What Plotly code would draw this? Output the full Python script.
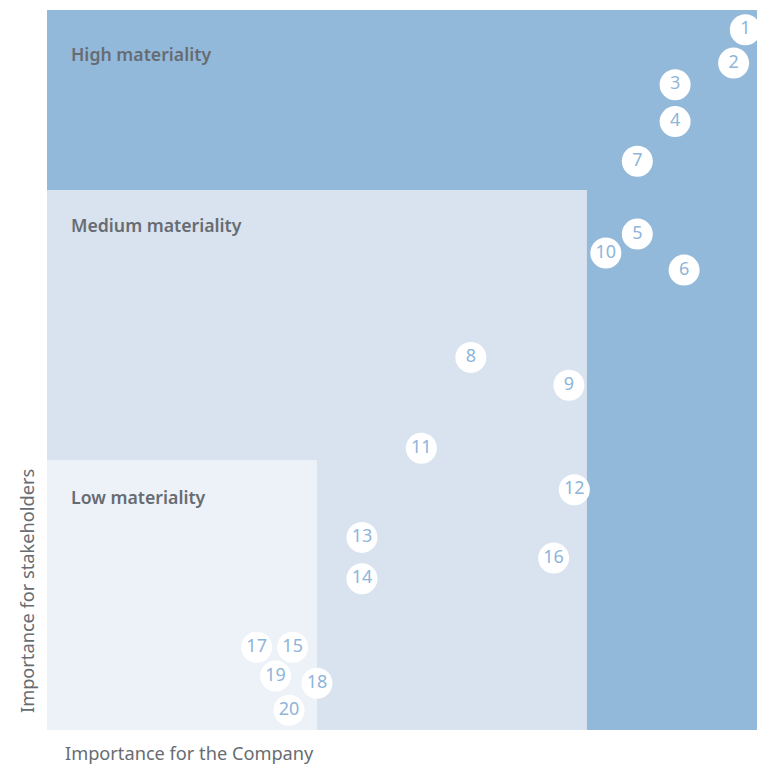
import plotly.graph_objects as go

# Data (units: importance scores)
labels = ["1", "2", "3", "4", "5", "6", "7", "8", "9", "10",
          "11", "12", "13", "14", "15", "16", "17", "18", "19", "20"]
company = [7.76, 7.63, 6.98, 6.98, 6.56, 7.08, 6.56, 4.71, 5.80, 6.21,
           4.16, 5.86, 3.50, 3.50, 2.73, 5.63, 2.33, 3.00, 2.54, 2.69]
stakeholders = [7.78, 7.41, 7.17, 6.76, 5.51, 5.11, 6.32, 4.14, 3.83, 5.30,
                3.13, 2.67, 2.14, 1.68, 0.92, 1.91, 0.92, 0.52, 0.60, 0.22]

zone_names = ["High materiality", "Medium materiality", "Low materiality"]
zone_x_max = [7.89, 6.0, 3.0]
zone_y_max = [8.0, 6.0, 3.0]
zone_colors = ["#93b9da", "#d9e3ef", "#edf2f8"]

X_MAX = 7.89
Y_MAX = 8.0

text_color = "#676c72"
num_color = "#8fb5d9"
font_family = "Noto Sans, Open Sans, sans-serif"

fig = go.Figure()

shapes = []
for xm, ym, c in zip(zone_x_max, zone_y_max, zone_colors):
    shapes.append(dict(type="rect", xref="x", yref="y", x0=0, x1=xm, y0=0, y1=ym,
                       fillcolor=c, line=dict(width=0), layer="below"))

fig.add_trace(go.Scatter(
    x=company, y=stakeholders, mode="markers+text", text=labels,
    textposition="middle center",
    textfont=dict(family=font_family, size=18, color=num_color),
    marker=dict(size=31, color="white", line=dict(width=0)),
    cliponaxis=False, hoverinfo="skip", showlegend=False,
))

annotations = []
label_y = [7.51, 5.61, 2.59]
for name, ly in zip(zone_names, label_y):
    annotations.append(dict(x=0.24, y=ly, xref="x", yref="y", text=name,
                            showarrow=False, xanchor="left", yanchor="middle",
                            font=dict(family=font_family, size=17.7, color=text_color, weight=600)))
annotations.append(dict(x=(63 - 47) / 710, y=-23 / 720, xref="paper", yref="paper",
                        text="Importance for the Company", showarrow=False,
                        xanchor="left", yanchor="middle",
                        font=dict(family=font_family, size=18.2, color=text_color)))
annotations.append(dict(x=-20 / 710, y=(730 - 591) / 720, xref="paper", yref="paper",
                        text="Importance for stakeholders", showarrow=False, textangle=-90,
                        xanchor="center", yanchor="middle",
                        font=dict(family=font_family, size=18.2, color=text_color)))

fig.update_layout(
    width=757, height=767,
    margin=dict(l=47, r=0, t=10, b=37),
    paper_bgcolor="white", plot_bgcolor="white",
    shapes=shapes, annotations=annotations,
    xaxis=dict(range=[0, X_MAX], showgrid=False, zeroline=False, showticklabels=False,
               ticks="", showline=False, fixedrange=True),
    yaxis=dict(range=[0, Y_MAX], showgrid=False, zeroline=False, showticklabels=False,
               ticks="", showline=False, fixedrange=True),
)

fig.write_html("out.html")
